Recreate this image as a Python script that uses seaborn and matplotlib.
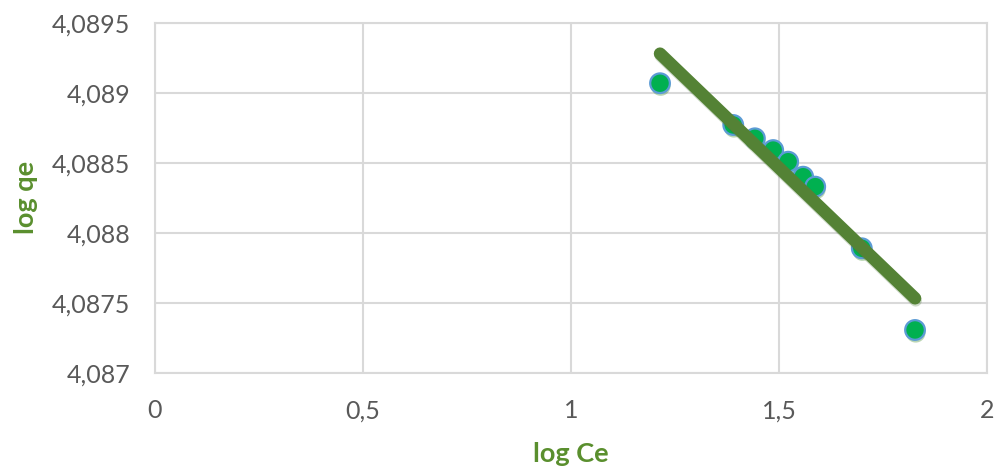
import matplotlib
matplotlib.use("Agg")
import matplotlib.pyplot as plt
import matplotlib.patheffects as pe
from matplotlib.ticker import FuncFormatter
import numpy as np
import pandas as pd
import seaborn as sns

# log Ce / log qe measurements
log_ce = [1.214, 1.390, 1.442, 1.486, 1.522, 1.558, 1.587, 1.699, 1.827]
log_qe = [4.089068, 4.088770, 4.088675, 4.088591, 4.088508, 4.088401, 4.088330, 4.087890, 4.087307]

x_ticks = [0, 0.5, 1, 1.5, 2]
y_ticks = [4.087, 4.0875, 4.088, 4.0885, 4.089, 4.0895]

df = pd.DataFrame({"log Ce": log_ce, "log qe": log_qe})

sns.set_theme(style="white")
plt.rcParams["font.family"] = ["Lato", "DejaVu Sans"]

fig = plt.figure(figsize=(9.95, 4.67), dpi=100)
ax = fig.add_axes([155 / 995, 1 - 373 / 467, (987 - 155) / 995, (373 - 22.7) / 467])

grid_c = "#D9D9D9"
point_fill = "#00B050"
point_edge = "#5B9BD5"
line_c = "#548235"
label_c = "#5A8F2E"
tick_c = "#595959"

shadow = [pe.SimplePatchShadow(offset=(0.5, -2), shadow_rgbFace="#3C8C28", alpha=0.35, rho=1),
          pe.Normal()]

sns.scatterplot(data=df, x="log Ce", y="log qe", ax=ax, s=200, color=point_fill,
                edgecolor=point_edge, linewidth=1.6, zorder=3, legend=False)
for coll in ax.collections:
    coll.set_path_effects(shadow)

sns.regplot(data=df, x="log Ce", y="log qe", ax=ax, scatter=False, ci=None,
            truncate=True,
            line_kws=dict(color=line_c, linewidth=9, solid_capstyle="round", zorder=4,
                          path_effects=[pe.SimpleLineShadow(offset=(0.5, -1.5), shadow_color="#3C6E28",
                                                            alpha=0.25), pe.Normal()]))

ax.set_xlim(0, 2)
ax.set_ylim(4.087, 4.0895)
ax.set_xticks(x_ticks)
ax.set_yticks(y_ticks)

def comma_fmt(v, _):
    s = f"{v:.4f}".rstrip("0").rstrip(".")
    return s.replace(".", ",")

ax.xaxis.set_major_formatter(FuncFormatter(comma_fmt))
ax.yaxis.set_major_formatter(FuncFormatter(comma_fmt))

ax.grid(True, color=grid_c, linewidth=1.5)
ax.set_axisbelow(True)
for sp in ax.spines.values():
    sp.set_color(grid_c)
    sp.set_linewidth(1.5)

ax.tick_params(axis="both", length=0, labelsize=18, labelcolor=tick_c)
ax.tick_params(axis="x", pad=19)
ax.tick_params(axis="y", pad=18)

ax.set_xlabel("log Ce", fontsize=19.5, fontweight="bold", color=label_c, labelpad=14)
ax.set_ylabel("log qe", fontsize=19.5, fontweight="bold", color=label_c, labelpad=10)

fig.savefig("out.png", dpi=100)
